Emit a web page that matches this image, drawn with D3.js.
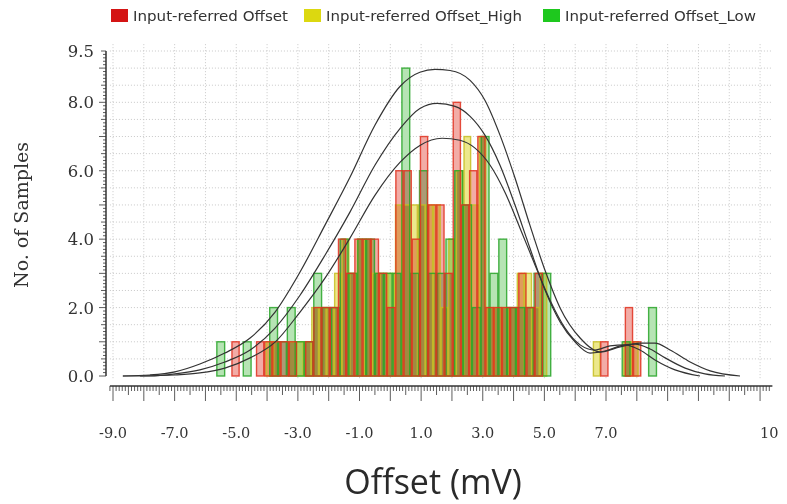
<!DOCTYPE html>
<html><head><meta charset="utf-8">
<script src="https://cdn.jsdelivr.net/npm/d3@7"></script>
<style>body{margin:0;background:#fff}svg{display:block}.barfill{mix-blend-mode:multiply}</style>
</head><body>
<svg id="chart" width="787" height="504"></svg>
<script>
// ---------- data ----------
const seriesNames = ["Input-referred Offset", "Input-referred Offset_High", "Input-referred Offset_Low"];
// histogram bins: first bin edge (mV), bin width (mV), counts
const offsetStart = -5.14, offsetWidth = 0.266;
const offsetCounts = [1,0,0,1,1,1,1,1,0,1, 2,2,2,4,3,4,4,4,3,2, 6,6,4,7,5,5,3,8,5,6, 7,2,2,2,2,3,2,3,0,0, 0,0,0,0,0,1,0,0,2,1];
const highStart = -4.03, highWidth = 0.247;
const highCounts = [1,1,0,1,1,1,2,2,2,3, 4,3,4,4,3,3,3,5,5,5, 5,5,5,2,4,6,7,5,7,2, 2,2,2,3,3,2,3,0,0,0, 0,0,0,1,0,0,0,1,1,0];
const lowStart = -5.63, lowWidth = 0.286;
const lowCounts = [1,0,0,1,0,0,2,1,2,1, 1,3,2,2,4,3,4,4,3,3, 3,9,3,6,3,3,4,6,5,2, 7,3,4,2,2,2,3,3,0,0, 0,0,0,0,0,0,1,0,0,2];
// fitted curves [mV, count]
const curveLow = [[-8.68,0],[-7.80,0.03],[-6.99,0.12],[-6.18,0.35],[-5.37,0.67],[-4.55,1.11],[-3.74,1.87],[-2.93,3.04],[-2.12,4.41],[-1.31,5.81],[-0.50,7.33],[0.32,8.47],[0.96,8.88],[1.45,8.96],[1.94,8.93],[2.59,8.64],[3.07,8.06],[3.56,7.04],[4.05,5.78],[4.53,4.41],[5.02,3.09],[5.51,1.99],[6.16,1.11],[6.81,0.70],[7.46,0.85],[8.10,0.96],[8.59,0.96],[9.08,0.76],[9.73,0.41],[10.38,0.15],[11.35,0]];
const curveOffset = [[-8.68,0],[-7.80,0],[-6.99,0.06],[-6.18,0.18],[-5.37,0.41],[-4.55,0.76],[-3.74,1.40],[-2.93,2.36],[-2.12,3.53],[-1.31,4.79],[-0.50,6.16],[0.32,7.24],[0.96,7.82],[1.52,7.97],[2.10,7.88],[2.59,7.59],[3.07,7.04],[3.56,6.16],[4.05,4.99],[4.53,3.74],[5.02,2.51],[5.51,1.58],[6.00,0.99],[6.48,0.67],[6.97,0.73],[7.46,0.88],[7.94,0.93],[8.43,0.79],[8.92,0.53],[9.57,0.23],[10.21,0.06],[10.86,0]];
const curveHigh = [[-8.12,0],[-6.99,0.03],[-6.18,0.09],[-5.37,0.23],[-4.55,0.53],[-3.74,0.99],[-2.93,1.87],[-2.12,2.86],[-1.31,4.03],[-0.50,5.28],[0.32,6.25],[0.96,6.74],[1.68,6.95],[2.26,6.89],[2.75,6.66],[3.24,6.16],[3.72,5.37],[4.21,4.32],[4.70,3.24],[5.18,2.22],[5.67,1.40],[6.16,0.91],[6.64,0.76],[7.13,0.88],[7.62,0.91],[8.10,0.76],[8.59,0.47],[9.24,0.18],[10.05,0]];
const xTickValues = [-9,-7,-5,-3,-1,1,3,5,7];
const xTickLabels = ["-9.0","-7.0","-5.0","-3.0","-1.0","1.0","3.0","5.0","7.0"];
const xEndValue = 12.3, xEndLabel = "10";
const yTickValues = [0,2,4,6,8,9.5];
const yTickLabels = ["0.0","2.0","4.0","6.0","8.0","9.5"];
const xTitle = "Offset (mV)", yTitle = "No. of Samples";

// ---------- drawing ----------
const svg = d3.select("#chart");
const x = d3.scaleLinear().domain([-9, 7]).range([113, 606]);
const y = d3.scaleLinear().domain([0, 9.5]).range([376, 51]);
const xMin = -9.1, xMax = 12.4;

// grid
const grid = svg.append("g").attr("stroke", "#c8c8c8").attr("stroke-width", 1).attr("stroke-dasharray", "1,2");
grid.selectAll("line.h").data(d3.range(0.5, 9.51, 0.5)).join("line")
  .attr("x1", x(xMin)).attr("x2", x(xMax)).attr("y1", d => y(d)).attr("y2", d => y(d));
grid.selectAll("line.v").data(d3.range(-9, 13, 1)).join("line")
  .attr("x1", d => x(d)).attr("x2", d => x(d)).attr("y1", y(9.7)).attr("y2", y(-0.1));

// bars
const series = [
  {start: offsetStart, w: offsetWidth, counts: offsetCounts, stroke: "#e0301e", fill: "#f2aca6"},
  {start: highStart, w: highWidth, counts: highCounts, stroke: "#c6be22", fill: "#ece88c"},
  {start: lowStart, w: lowWidth, counts: lowCounts, stroke: "#28a428", fill: "#b6e4b4"}
];
const binsOf = s => s.counts.map((c, i) => ({x0: s.start + i * s.w, x1: s.start + (i + 1) * s.w, c})).filter(b => b.c > 0);
const fillG = svg.append("g").style("isolation", "isolate");
series.forEach(s => {
  fillG.append("g").selectAll("rect").data(binsOf(s)).join("rect").attr("class", "barfill")
    .attr("x", b => x(b.x0)).attr("width", b => x(b.x1) - x(b.x0) - 1)
    .attr("y", b => y(b.c)).attr("height", b => y(0) - y(b.c))
    .attr("fill", s.fill);
});
[series[1], series[2], series[0]].forEach(s => {
  svg.append("g").selectAll("rect").data(binsOf(s)).join("rect")
    .attr("x", b => x(b.x0)).attr("width", b => x(b.x1) - x(b.x0) - 1)
    .attr("y", b => y(b.c)).attr("height", b => y(0) - y(b.c))
    .attr("fill", "none").attr("stroke", s.stroke).attr("stroke-width", 1.4).attr("stroke-opacity", 0.85);
});

// curves
const line = d3.line().x(d => x(d[0])).y(d => y(d[1])).curve(d3.curveMonotoneX);
[curveLow, curveOffset, curveHigh].forEach(c => {
  svg.append("path").attr("d", line(c)).attr("fill", "none").attr("stroke", "#333").attr("stroke-width", 1.2);
});

// x ruler axis
const xr = svg.append("g").attr("stroke", "#333");
const axY = 386;
xr.append("line").attr("x1", x(xMin)).attr("x2", x(xMax)).attr("y1", axY).attr("y2", axY).attr("stroke-width", 1.5);
const xMinor = d3.range(-91, 124, 1).map(d => d / 10);
xr.selectAll("line.t").data(xMinor).join("line")
  .attr("x1", d => x(d)).attr("x2", d => x(d)).attr("y1", axY)
  .attr("y2", d => {const k = Math.round(d * 10); return axY + (k % 10 === 0 ? 15 : (k % 5 === 0 ? 9 : 5));})
  .attr("stroke-width", 0.8);
svg.append("g").selectAll("text").data(xTickValues).join("text")
  .attr("x", d => x(d)).attr("y", 438).attr("text-anchor", "middle")
  .attr("font-family", "DejaVu Serif").attr("font-size", 14.5).attr("fill", "#333")
  .text((d, i) => xTickLabels[i]);
svg.append("text").attr("x", x(xEndValue)).attr("y", 438).attr("text-anchor", "middle")
  .attr("font-family", "DejaVu Serif").attr("font-size", 14.5).attr("fill", "#333").text(xEndLabel);

// y ruler axis
const yr = svg.append("g").attr("stroke", "#333");
const axX = 106;
yr.append("line").attr("x1", axX).attr("x2", axX).attr("y1", y(9.5)).attr("y2", y(0)).attr("stroke-width", 1.5);
const yMinor = d3.range(0, 96, 1).map(d => d / 10);
yr.selectAll("line.t").data(yMinor).join("line")
  .attr("y1", d => y(d)).attr("y2", d => y(d)).attr("x1", axX)
  .attr("x2", d => {const k = Math.round(d * 10); return axX - (k % 10 === 0 ? 7 : (k % 5 === 0 ? 5 : 3));})
  .attr("stroke-width", 0.8);
svg.append("g").selectAll("text").data(yTickValues).join("text")
  .attr("x", 94).attr("y", d => y(d) + 6).attr("text-anchor", "end")
  .attr("font-family", "DejaVu Serif").attr("font-size", 16.5).attr("fill", "#333")
  .text((d, i) => yTickLabels[i]);

// titles
svg.append("text").attr("x", 433).attr("y", 494).attr("text-anchor", "middle")
  .attr("font-family", "Open Sans").attr("font-size", 34).attr("fill", "#2a2a2a").text(xTitle);
svg.append("text").attr("transform", "translate(28,215) rotate(-90)").attr("text-anchor", "middle")
  .attr("font-family", "DejaVu Serif").attr("font-size", 19).attr("fill", "#333").text(yTitle);

// legend
const legColors = ["#d41414", "#dcd810", "#1ec81e"];
const legX = [111, 304, 543];
const legW = [155, 196, 191];
const leg = svg.append("g");
seriesNames.forEach((n, i) => {
  leg.append("rect").attr("x", legX[i]).attr("y", 9).attr("width", 17).attr("height", 13).attr("fill", legColors[i]);
  leg.append("text").attr("x", legX[i] + 22).attr("y", 21).attr("font-family", "DejaVu Sans").attr("font-size", 14)
    .attr("textLength", legW[i]).attr("lengthAdjust", "spacingAndGlyphs")
    .attr("fill", "#333").text(n);
});
</script>
</body></html>
